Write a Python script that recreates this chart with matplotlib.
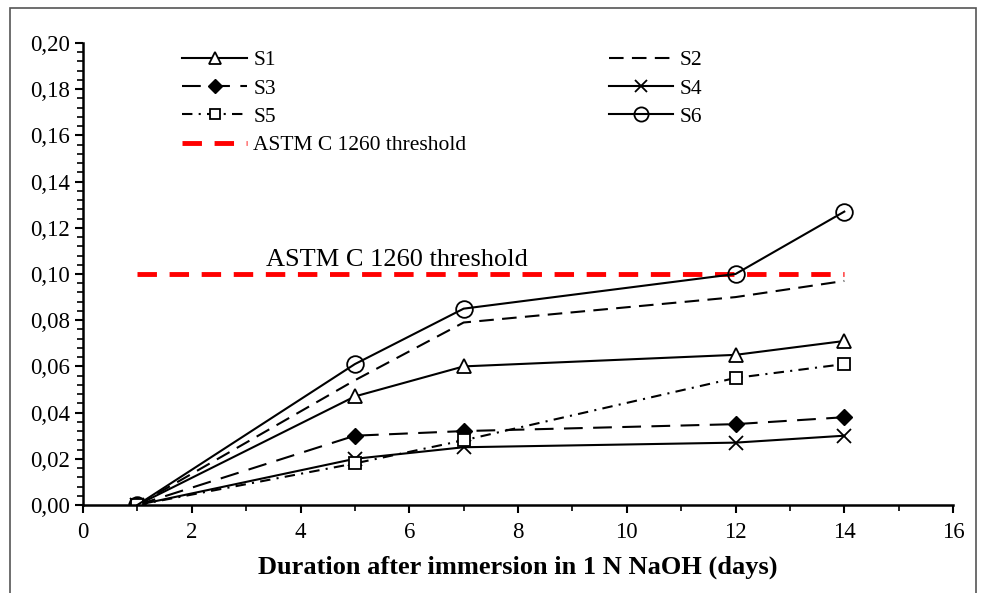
import matplotlib
matplotlib.use("Agg")
import matplotlib.pyplot as plt
from matplotlib.patches import Rectangle
from matplotlib.ticker import MultipleLocator, FuncFormatter

plt.rcParams["font.family"] = ["Liberation Serif", "DejaVu Serif"]

days = [1, 5, 7, 12, 14]
s1 = [0.0, 0.047, 0.060, 0.065, 0.071]
s2 = [0.0, 0.054, 0.079, 0.090, 0.097]
s3 = [0.0, 0.030, 0.032, 0.035, 0.038]
s4 = [0.0, 0.020, 0.025, 0.027, 0.030]
s5 = [0.0, 0.018, 0.028, 0.055, 0.061]
s6 = [0.0, 0.061, 0.085, 0.100, 0.127]
threshold_days = [1, 14]
threshold = [0.10, 0.10]
label_thr = "ASTM C 1260 threshold"

fig = plt.figure(figsize=(9.81, 5.93), dpi=100)
ax = fig.add_axes([0.0846, 0.1484, 0.8869, 0.7791])

lw = 1.5
h1, = ax.plot(days, s1, color="black", lw=lw, marker="^", ms=10, mfc="white", mew=1.3, label="S1")
h2, = ax.plot(days, s2, color="black", lw=lw, ls=(0, (7, 4)), label="S2")
h3, = ax.plot(days, s3, color="black", lw=lw, ls=(0, (9, 5)), marker="D", ms=8, mfc="black", label="S3")
h4, = ax.plot(days, s4, color="black", lw=lw, marker="x", ms=10, mew=1.3, label="S4")
h5, = ax.plot(days, s5, color="black", lw=lw, ls=(0, (5, 3, 1, 3)), marker="s", ms=9, mfc="white", mew=1.3, label="S5")
h6, = ax.plot(days, s6, color="black", lw=lw, marker="o", ms=12, mfc="none", mew=1.3, label="S6")
ht, = ax.plot(threshold_days, threshold, color="red", lw=3.5, ls=(0, (4, 2.6)), label=label_thr, zorder=1)

ax.text(5.77, 0.1015, label_thr, fontsize=19, ha="center", va="bottom")

ax.set_xlim(0, 16)
ax.set_ylim(0, 0.20)
ax.xaxis.set_major_locator(MultipleLocator(2))
ax.xaxis.set_minor_locator(MultipleLocator(1))
ax.yaxis.set_major_locator(MultipleLocator(0.02))
ax.yaxis.set_minor_locator(MultipleLocator(0.004))
ax.yaxis.set_major_formatter(FuncFormatter(lambda v, p: f"{v:.2f}".replace(".", ",")))
ax.tick_params(which="major", length=6, width=1.5, labelsize=16.5, direction="out")
ax.tick_params(axis="x", which="major", pad=6)
ax.tick_params(which="minor", length=4, width=1.2, direction="out")
for side in ("top", "right"):
    ax.spines[side].set_visible(False)
for side in ("left", "bottom"):
    ax.spines[side].set_linewidth(1.8)

ax.set_xlabel("Duration after immersion in 1 N NaOH (days)", fontsize=19, fontweight="bold", labelpad=9)

ax.legend(handles=[h1, h3, h5, ht, h2, h4, h6], ncol=2, loc="upper left",
          bbox_to_anchor=(0.092, 1.026), frameon=False, fontsize=15.5,
          handlelength=3.0, columnspacing=6.6, labelspacing=0.38, handletextpad=0.3,
          markerscale=0.85)

fig.patches.append(Rectangle((10 / 981, -0.01), 966 / 981, 1.01 - 8 / 593,
                             transform=fig.transFigure, fill=False,
                             edgecolor="#555555", lw=1.2))

fig.savefig("out.png", dpi=100)
